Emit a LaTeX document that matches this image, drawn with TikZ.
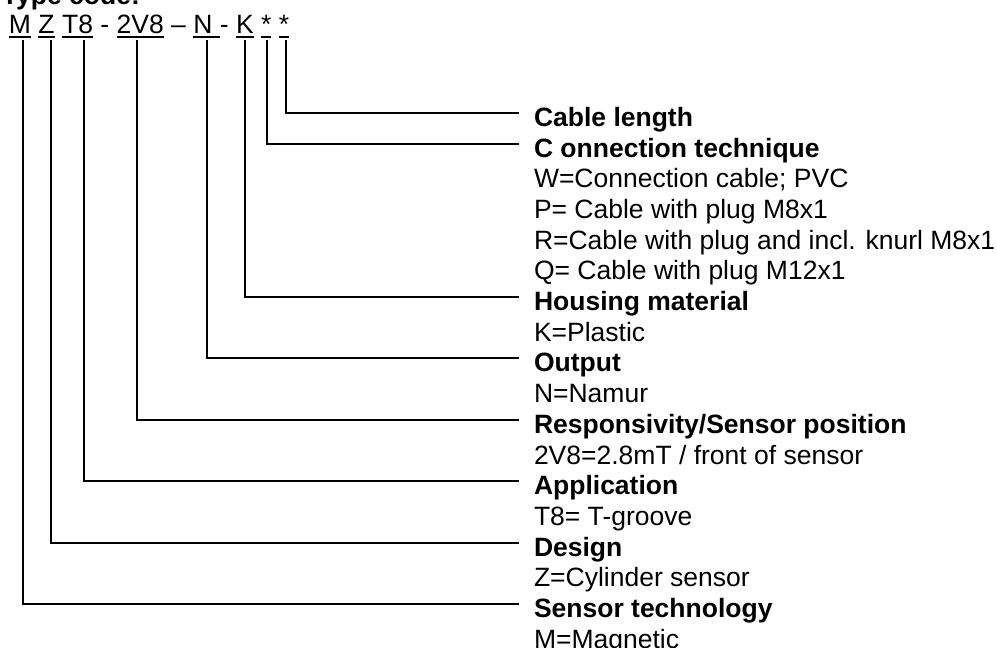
\documentclass[tikz,border=0pt]{standalone}
\usepackage{fontspec}
\setmainfont{Liberation Sans}
\usetikzlibrary{positioning}

\begin{document}
\begin{tikzpicture}[
    x=0.5pt, y=-0.5pt,
    every node/.style={inner sep=0pt, outer sep=0pt, font=\fontsize{13.25pt}{15.35pt}\selectfont},
    code/.style={anchor=base west},
    entry/.style={anchor=north west, text height=14.4pt, text depth=0.95pt},
    head/.style={entry, font=\fontsize{13.25pt}{15.35pt}\selectfont\bfseries},
    under/.style={below=0pt of #1.south west, anchor=north west},
    lead/.style={line width=1pt, shorten <=3.5pt, shorten >=7.5pt},
    uline/.style={line width=1pt}
]
\useasboundingbox (0,0) rectangle (997,648);

% Title and type code
\node[code, font=\fontsize{13.25pt}{15.35pt}\selectfont\bfseries] (title) at (2,4) {Type code:};
\node[code] (cm) at (9,33) {M};
\node[base right=3.7pt of cm] (cz) {Z};
\node[base right=3.7pt of cz] (ct) {T8};
\node[base right=3.7pt of ct] (d1) {-};
\node[base right=3.7pt of d1] (cv) {2V8};
\node[base right=3.7pt of cv] (d2) {--};
\node[base right=3.7pt of d2] (cn) {N\kern3.7pt};
\node[base right=0pt of cn] (d3) {-};
\node[base right=3.7pt of d3] (ck) {K};
\node[base right=3.7pt of ck] (cs1) {*};
\node[base right=3.7pt of cs1] (cs2) {*};

\foreach \c in {cm,cz,ct,cv,cn,ck,cs1,cs2}
    \draw[uline] ([yshift=-2pt]\c.base west) -- ([yshift=-2pt]\c.base east);

% Legend
\node[head] (cablen) at (534,97.5) {Cable length};
\node[head, under=cablen] (conn) {C onnection technique};
\node[entry, under=conn] (connw) {W=Connection cable; PVC};
\node[entry, under=connw] (connp) {P= Cable with plug M8x1};
\node[entry, under=connp] (connr) {R=Cable with plug and incl. knurl M8x1};
\node[entry, under=connr] (connq) {Q= Cable with plug M12x1};
\node[head, under=connq] (housing) {Housing material};
\node[entry, under=housing] (housk) {K=Plastic};
\node[head, under=housk] (output) {Output};
\node[entry, under=output] (outn) {N=Namur};
\node[head, under=outn] (resp) {Responsivity/Sensor position};
\node[entry, under=resp] (respv) {2V8=2.8mT / front of sensor};
\node[head, under=respv] (appl) {Application};
\node[entry, under=appl] (applt) {T8= T-groove};
\node[head, under=applt] (design) {Design};
\node[entry, under=design] (desz) {Z=Cylinder sensor};
\node[head, under=desz] (tech) {Sensor technology};
\node[entry, under=tech] (techm) {M=Magnetic};

% Leader lines
\draw[lead] ([xshift=1pt]cs2.south) |- (cablen.west);
\draw[lead] ([xshift=0.5pt]cs1.south) |- (conn.west);
\draw[lead] (ck.south) |- (housing.west);
\draw[lead] (cn.south) |- (output.west);
\draw[lead] ([xshift=-1.5pt]cv.south) |- (resp.west);
\draw[lead] ([xshift=3.2pt]ct.south) |- (appl.west);
\draw[lead] ([xshift=2.2pt]cz.south) |- (design.west);
\draw[lead] ([xshift=1.5pt]cm.south) |- (tech.west);

\end{tikzpicture}
\end{document}
